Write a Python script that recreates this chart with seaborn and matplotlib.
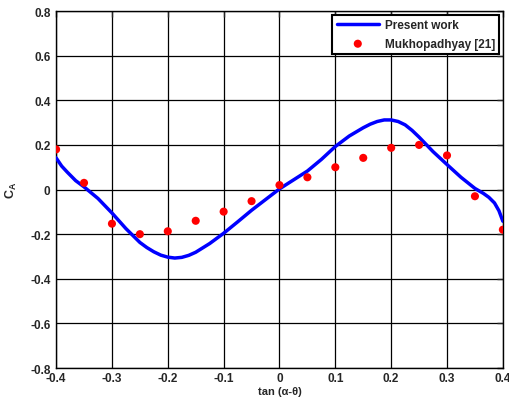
import numpy as np
import pandas as pd
import matplotlib
matplotlib.use("Agg")
import matplotlib.pyplot as plt
import seaborn as sns

# Present work (curva continua)
curve_x = [-0.4, -0.39, -0.38, -0.365, -0.35, -0.325, -0.3, -0.275, -0.25, -0.2375,
           -0.225, -0.2125, -0.2, -0.1875, -0.175, -0.1625, -0.15, -0.125, -0.1, -0.075,
           -0.05, -0.025, 0.0, 0.025, 0.05, 0.075, 0.1, 0.125, 0.15, 0.1625,
           0.175, 0.1875, 0.2, 0.2125, 0.225, 0.2375, 0.25, 0.275, 0.3, 0.325,
           0.35, 0.365, 0.375, 0.385, 0.393, 0.4]
curve_y = [0.142, 0.105, 0.078, 0.04, 0.012, -0.04, -0.105, -0.175, -0.237, -0.26,
           -0.279, -0.294, -0.303, -0.307, -0.304, -0.295, -0.281, -0.242, -0.196, -0.145,
           -0.093, -0.045, 0.003, 0.043, 0.083, 0.135, 0.193, 0.24, 0.277, 0.293,
           0.305, 0.312, 0.312, 0.305, 0.29, 0.265, 0.235, 0.17, 0.112, 0.055,
           0.005, -0.017, -0.035, -0.06, -0.095, -0.142]

# Mukhopadhyay [21] (puntos)
ref_x = [-0.4, -0.35, -0.3, -0.25, -0.2, -0.15, -0.1, -0.05, 0.0,
         0.05, 0.1, 0.15, 0.2, 0.25, 0.3, 0.35, 0.4]
ref_y = [0.18, 0.03, -0.153, -0.2, -0.187, -0.14, -0.099, -0.052, 0.02,
         0.055, 0.10, 0.142, 0.187, 0.2, 0.153, -0.03, -0.18]

x_ticks = [-0.4, -0.3, -0.2, -0.1, 0, 0.1, 0.2, 0.3, 0.4]
x_tick_labels = ["-0.4", "-0.3", "-0.2", "-0.1", "0", "0.1", "0.2", "0.3", "0.4"]
y_ticks = [-0.8, -0.6, -0.4, -0.2, 0, 0.2, 0.4, 0.6, 0.8]
y_tick_labels = ["-0.8", "-0.6", "-0.4", "-0.2", "0", "0.2", "0.4", "0.6", "0.8"]

sns.set_style("white")
plt.rcParams["font.family"] = ["Liberation Sans", "DejaVu Sans"]
plt.rcParams["font.weight"] = "bold"
plt.rcParams["mathtext.fontset"] = "custom"
plt.rcParams["mathtext.bf"] = "Liberation Sans:bold"
plt.rcParams["mathtext.rm"] = "Liberation Sans:bold"

fig = plt.figure(figsize=(5.1, 4.02), dpi=100)
ax = fig.add_axes([0.11, 0.082, 0.876, 0.888])

curve = pd.DataFrame({"x": curve_x, "y": curve_y})
ref = pd.DataFrame({"x": ref_x, "y": ref_y})

sns.lineplot(data=curve, x="x", y="y", ax=ax, color="#0000ff", linewidth=2.5,
             label="Present work", sort=False, zorder=3)
sns.scatterplot(data=ref, x="x", y="y", ax=ax, color="#ff0000", s=34,
                edgecolor="none", label="Mukhopadhyay [21]", zorder=4)

ax.set_xlim(-0.4, 0.4)
ax.set_ylim(-0.8, 0.8)
ax.set_xticks(x_ticks)
ax.set_xticklabels(x_tick_labels, fontsize=8.5, fontweight="bold")
ax.set_yticks(y_ticks)
ax.set_yticklabels(y_tick_labels, fontsize=8.5, fontweight="bold")
ax.tick_params(axis="x", direction="in", length=4, width=1, top=True, pad=3)
ax.tick_params(axis="y", direction="in", length=4, width=1, right=True, pad=4)
ax.grid(True, color="black", linewidth=0.9, linestyle="-")
ax.set_axisbelow(True)
for s in ax.spines.values():
    s.set_color("black")
    s.set_linewidth(1)

ax.set_xlabel("tan (α-θ)", fontsize=8, fontweight="bold", labelpad=1)
ax.set_ylabel(r"C$_\mathbf{A}$", fontsize=9, fontweight="bold", labelpad=8)

leg = ax.legend(loc="upper right", fontsize=8.5, frameon=True, fancybox=False,
                borderaxespad=0.3, handlelength=3.6, borderpad=0.35, labelspacing=0.6,
                handletextpad=0.5)
leg.get_frame().set_edgecolor("black")
leg.get_frame().set_linewidth(1.5)
leg.get_frame().set_alpha(1)
for t in leg.get_texts():
    t.set_fontweight("bold")

fig.savefig("out.png", dpi=100)
